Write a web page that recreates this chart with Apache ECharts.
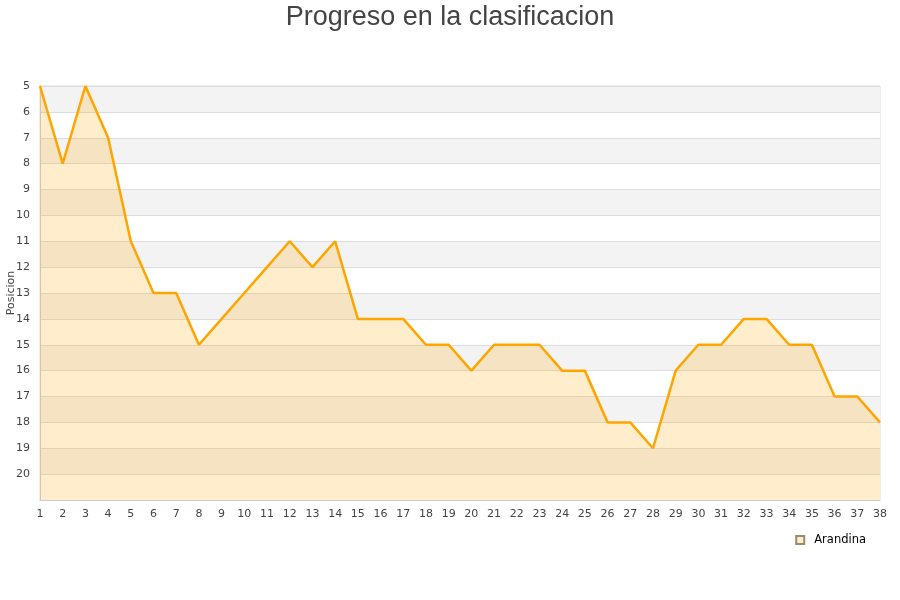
<!DOCTYPE html>
<html><head><meta charset="utf-8">
<script src="https://cdn.jsdelivr.net/npm/echarts@6/dist/echarts.min.js"></script>
<style>html,body{margin:0;padding:0;background:#fff}#c{width:900px;height:600px}</style>
</head><body><div id="c"></div>
<script>
const jornadas = ['1','2','3','4','5','6','7','8','9','10','11','12','13','14','15','16','17','18','19','20','21','22','23','24','25','26','27','28','29','30','31','32','33','34','35','36','37','38'];
const arandina = [5,8,5,7,11,13,13,15,14,13,12,11,12,11,14,14,14,15,15,16,15,15,15,16,16,18,18,19,16,15,15,14,14,15,15,17,17,18];
const seriesName = 'Arandina';
const titleText = 'Progreso en la clasificacion';
const yName = 'Posicion';

const chart = echarts.init(document.getElementById('c'));
chart.setOption({
  animation: false,
  title: { text: titleText, left: 'center', top: -1, textStyle: { fontFamily: 'Liberation Sans', fontSize: 27, fontWeight: 'normal', color: '#444' } },
  grid: { left: 40, right: 20, top: 86, bottom: 100, outerBoundsMode: 'none', containLabel: false, show: true, borderColor: '#ddd', borderWidth: 1, backgroundColor: 'transparent' },
  legend: { data: [seriesName], right: 29, top: 529, icon: 'rect', itemWidth: 8, itemHeight: 8, itemGap: 10,
    textStyle: { fontFamily: 'DejaVu Sans', fontSize: 11.5, color: '#000', padding: [0, 0, 0, 5] } },
  xAxis: { type: 'category', data: jornadas, boundaryGap: false,
    axisLine: { lineStyle: { color: '#ccc' } }, axisTick: { show: false },
    axisLabel: { fontFamily: 'DejaVu Sans', fontSize: 11, color: '#444', margin: 9, interval: 0 },
    splitLine: { show: false } },
  yAxis: { type: 'value', inverse: true, min: 5, max: 21, interval: 1,
    name: yName, nameLocation: 'middle', nameGap: 23, nameMoveOverlap: false, nameTextStyle: { fontFamily: 'DejaVu Sans', fontSize: 11, color: '#444' },
    axisLine: { show: true, lineStyle: { color: '#ccc' } }, axisTick: { show: false },
    axisLabel: { fontFamily: 'DejaVu Sans', fontSize: 11, color: '#444', margin: 10, formatter: v => v === 21 ? '' : v },
    splitLine: { show: true, lineStyle: { color: '#ddd' } },
    splitArea: { show: true, areaStyle: { color: ['#f3f3f3', '#ffffff'] } } },
  series: [{ name: seriesName, type: 'line', data: arandina, symbol: 'none',
    lineStyle: { color: '#ffa500', width: 2.5 },
    itemStyle: { color: '#ffeec8', borderColor: '#9a8a70', borderWidth: 1 },
    areaStyle: { color: 'rgba(255,165,0,0.2)', opacity: 1, origin: 'end' } }]
});
</script></body></html>
